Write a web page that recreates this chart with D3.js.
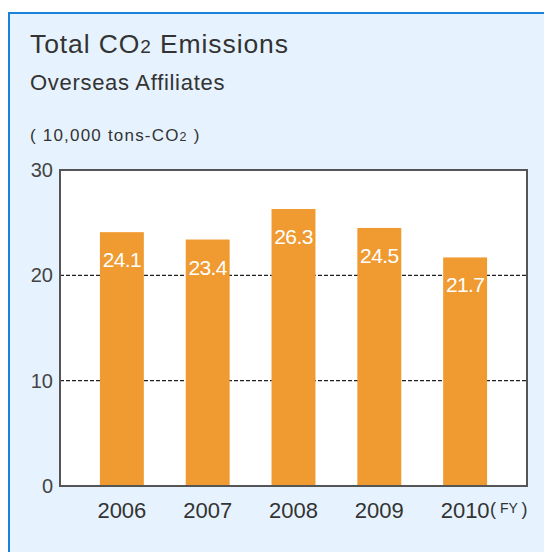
<!DOCTYPE html>
<html>
<head>
<meta charset="utf-8">
<script src="https://cdn.jsdelivr.net/npm/d3@7"></script>
<style>
  html, body { margin: 0; padding: 0; background: #ffffff; }
  svg { display: block; font-family: "Liberation Sans", Arial, Helvetica, sans-serif; }
</style>
</head>
<body>
<svg id="chart" width="544" height="552"></svg>
<script>
const categories = ["2006", "2007", "2008", "2009", "2010"];
const values = [24.1, 23.4, 26.3, 24.5, 21.7];
const yTicks = [0, 10, 20, 30];
const gridValues = [10, 20];

const svg = d3.select("#chart");

// panel
svg.append("rect").attr("x", 9).attr("y", 13).attr("width", 540).attr("height", 545)
  .attr("fill", "#e6f2fd");
svg.append("line").attr("x1", 8).attr("x2", 544).attr("y1", 13).attr("y2", 13)
  .attr("stroke", "#1b82d9").attr("stroke-width", 2);
svg.append("line").attr("x1", 9).attr("x2", 9).attr("y1", 12).attr("y2", 552)
  .attr("stroke", "#1b82d9").attr("stroke-width", 2);

// titles
const title = svg.append("text").attr("x", 30).attr("y", 53)
  .attr("font-size", 26.5).attr("fill", "#333").attr("letter-spacing", 0.9);
title.append("tspan").text("Total CO");
title.append("tspan").attr("font-size", 19).text("2");
title.append("tspan").text(" Emissions");

svg.append("text").attr("x", 30).attr("y", 90)
  .attr("font-size", 22).attr("fill", "#333").attr("letter-spacing", 0.7)
  .text("Overseas Affiliates");

const unit = svg.append("text").attr("x", 30).attr("y", 141)
  .attr("font-size", 17).attr("fill", "#333").attr("letter-spacing", 1.2);
unit.append("tspan").text("( 10,000 tons-CO");
unit.append("tspan").attr("font-size", 12.5).text("2");
unit.append("tspan").text(" )");

// plot
const plot = { left: 60, right: 527, top: 170, bottom: 486 };

const x = d3.scaleBand().domain(categories)
  .range([plot.left, plot.right]).paddingInner(0.488).paddingOuter(0.465);
const y = d3.scaleLinear().domain([0, 30]).range([plot.bottom, plot.top]);

svg.append("rect").attr("x", plot.left).attr("y", plot.top)
  .attr("width", plot.right - plot.left).attr("height", plot.bottom - plot.top)
  .attr("fill", "#ffffff");

// gridlines
svg.append("g").selectAll("line").data(gridValues).join("line")
  .attr("x1", plot.left).attr("x2", plot.right)
  .attr("y1", d => y(d)).attr("y2", d => y(d))
  .attr("stroke", "#222").attr("stroke-width", 1.3).attr("stroke-dasharray", "4,2");

// bars
svg.append("g").selectAll("rect").data(values).join("rect")
  .attr("x", (d, i) => x(categories[i]))
  .attr("y", d => y(d))
  .attr("width", x.bandwidth())
  .attr("height", d => y(0) - y(d))
  .attr("fill", "#f09b32");

// value labels
svg.append("g").selectAll("text").data(values).join("text")
  .attr("x", (d, i) => x(categories[i]) + x.bandwidth() / 2)
  .attr("y", d => y(d) + 35)
  .attr("text-anchor", "middle")
  .attr("font-size", 21).attr("letter-spacing", -0.6)
  .attr("fill", "#ffffff")
  .text(d => d.toFixed(1));

// frame
svg.append("rect").attr("x", plot.left).attr("y", plot.top)
  .attr("width", plot.right - plot.left).attr("height", plot.bottom - plot.top)
  .attr("fill", "none").attr("stroke", "#555").attr("stroke-width", 2);

// y axis
const yAxis = d3.axisLeft(y).tickValues(yTicks).tickSize(0).tickPadding(7)
  .tickFormat(d3.format("d"));
const gy = svg.append("g").attr("transform", `translate(${plot.left},0)`).call(yAxis);
gy.select(".domain").remove();
gy.selectAll("text").attr("font-size", 20).attr("fill", "#444")
  .attr("font-family", "'Liberation Sans', Arial, sans-serif");

// x axis
const xAxis = d3.axisBottom(x).tickSize(0).tickPadding(16);
const gx = svg.append("g").attr("transform", `translate(0,${plot.bottom})`).call(xAxis);
gx.select(".domain").remove();
gx.selectAll("text").attr("font-size", 22).attr("fill", "#333")
  .attr("font-family", "'Liberation Sans', Arial, sans-serif");

// FY label
const fy = svg.append("text").attr("x", 490).attr("y", 515)
  .attr("font-size", 18).attr("fill", "#333");
fy.append("tspan").text("(");
fy.append("tspan").attr("font-size", 14).attr("dy", -2).text(" FY ");
fy.append("tspan").attr("dy", 2).text(")");
</script>
</body>
</html>
